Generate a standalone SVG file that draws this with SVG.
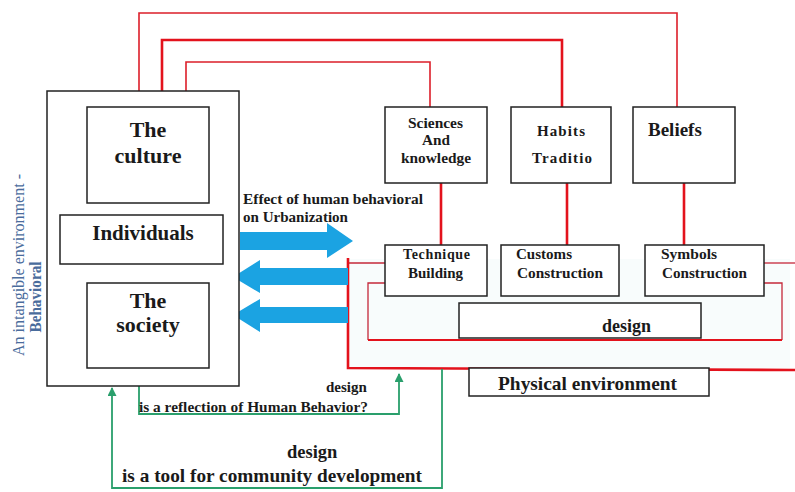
<svg xmlns="http://www.w3.org/2000/svg" width="795" height="492" viewBox="0 0 795 492">
<defs>
<style>
.box{fill:#fff;stroke:#222;stroke-width:1.5}
.t{font-family:'Liberation Serif','DejaVu Serif',serif;font-weight:bold;fill:#1a1a1a}
.red{fill:none;stroke:#dc1f2a;stroke-width:1.6}
.redk{fill:none;stroke:#e3121c;stroke-width:2.6}
.redd{fill:none;stroke:#c4283a;stroke-width:1.3}
.grn{fill:none;stroke:#2a9f6c;stroke-width:1.8}
.blue{fill:#1ba3e2}
.vt{font-family:'Liberation Serif','DejaVu Serif',serif;fill:#4a6c9c}
</style>
<marker id="ga" viewBox="0 0 10 10" refX="9" refY="5" markerWidth="10" markerHeight="9" markerUnits="userSpaceOnUse" orient="auto">
<path d="M0,0 L10,5 L0,10 Z" fill="#2a9f6c"/>
</marker>
</defs>
<rect width="795" height="492" fill="#fff"/>
<rect x="349" y="259" width="441" height="109" fill="#f8fcfc"/>

<g id="connectors">
<path class="red" d="M139,91 V13 H677 V107"/>
<path class="redk" d="M162,91 V40 H562 V107"/>
<path class="red" d="M186,91 V62 H430 V107"/>
<path class="redk" d="M441,183 V245"/>
<path class="redk" d="M567,183 V245"/>
<path class="redk" d="M684,183 V245"/>
<path class="redd" d="M348,263 H385"/>
<path class="redd" d="M764,263 H795"/>
<path class="redd" d="M385,283 H368 V340"/>
<path class="redd" d="M764,283 H782 V340"/>
<path class="redk" d="M368,340 H782" style="stroke-width:2.2"/>
<path class="redk" d="M348,258 V368 L795,370"/>
<polygon class="blue" points="240,232 327,232 327,223 353,241 327,258 327,250 240,250"/>
<polygon class="blue" points="348,268 260,268 260,260 233,277 260,293 260,285 348,285"/>
<polygon class="blue" points="348,307 260,307 260,299 233,315 260,332 260,323 348,323"/>
<path class="grn" d="M139,386 V414 H399 V374" marker-end="url(#ga)"/>
<path class="grn" d="M442,369 V488 H112 V388" marker-end="url(#ga)"/>
</g>

<g id="intangible-label">
<text class="vt" transform="translate(24,265) rotate(-90)" text-anchor="middle" font-size="16" textLength="182" lengthAdjust="spacingAndGlyphs">An intangible environment -</text>
<text class="vt" transform="translate(41,297) rotate(-90)" text-anchor="middle" font-size="16" font-weight="bold" textLength="71" lengthAdjust="spacingAndGlyphs">Behavioral</text>
</g>

<g id="behavioral-environment">
<rect class="box" x="47" y="91" width="192" height="295"/>
</g>
<g id="the-culture">
<rect class="box" x="87" y="107" width="122" height="96"/>
<text class="t" x="148" y="137" font-size="22" text-anchor="middle">The</text>
<text class="t" x="148" y="163" font-size="22" text-anchor="middle">culture</text>
</g>
<g id="individuals">
<rect class="box" x="60" y="215" width="163" height="49"/>
<text class="t" x="143" y="240" font-size="21" text-anchor="middle">Individuals</text>
</g>
<g id="the-society">
<rect class="box" x="87" y="283" width="122" height="85"/>
<text class="t" x="148" y="308" font-size="22" text-anchor="middle">The</text>
<text class="t" x="148" y="332" font-size="22" text-anchor="middle">society</text>
</g>

<g id="effect-label">
<text class="t" x="243" y="204" font-size="15.5" textLength="180" lengthAdjust="spacingAndGlyphs">Effect of human behavioral</text>
<text class="t" x="243" y="222" font-size="15.5" textLength="105" lengthAdjust="spacingAndGlyphs">on Urbanization</text>
</g>

<g id="sciences">
<rect class="box" x="385" y="107" width="102" height="76"/>
<text class="t" x="408" y="128" font-size="15" textLength="55" lengthAdjust="spacingAndGlyphs">Sciences</text>
<text class="t" x="422" y="145" font-size="15" textLength="28" lengthAdjust="spacingAndGlyphs">And</text>
<text class="t" x="401" y="163" font-size="15" textLength="70" lengthAdjust="spacingAndGlyphs">knowledge</text>
</g>
<g id="habits">
<rect class="box" x="511" y="107" width="100" height="76"/>
<text class="t" x="537" y="136" font-size="15" textLength="48" lengthAdjust="spacing">Habits</text>
<text class="t" x="532" y="163" font-size="15" textLength="60" lengthAdjust="spacing">Traditio</text>
</g>
<g id="beliefs">
<rect class="box" x="633" y="107" width="102" height="76"/>
<text class="t" x="648" y="136" font-size="19">Beliefs</text>
</g>

<g id="technique">
<rect class="box" x="385" y="245" width="102" height="51"/>
<text class="t" x="403" y="259" font-size="14" textLength="67" lengthAdjust="spacing">Technique</text>
<text class="t" x="408" y="278" font-size="14" textLength="55" lengthAdjust="spacingAndGlyphs">Building</text>
</g>
<g id="customs">
<rect class="box" x="501" y="245" width="118" height="51"/>
<text class="t" x="516" y="259" font-size="14" textLength="56" lengthAdjust="spacingAndGlyphs">Customs</text>
<text class="t" x="517" y="278" font-size="14" textLength="86" lengthAdjust="spacingAndGlyphs">Construction</text>
</g>
<g id="symbols">
<rect class="box" x="645" y="245" width="119" height="51"/>
<text class="t" x="661" y="259" font-size="14" textLength="56" lengthAdjust="spacingAndGlyphs">Symbols</text>
<text class="t" x="662" y="278" font-size="14" textLength="85" lengthAdjust="spacingAndGlyphs">Construction</text>
</g>
<g id="design">
<rect class="box" x="459" y="303" width="242" height="35"/>
<text class="t" x="602" y="332" font-size="18">design</text>
</g>
<g id="physical-environment">
<rect class="box" x="469" y="368" width="240" height="28"/>
<text class="t" x="498" y="390" font-size="19" textLength="179" lengthAdjust="spacingAndGlyphs">Physical environment</text>
</g>

<g id="reflection-label">
<text class="t" x="326" y="392" font-size="15">design</text>
<text class="t" x="139" y="412" font-size="15" textLength="229" lengthAdjust="spacingAndGlyphs">is a reflection of Human Behavior?</text>
</g>
<g id="tool-label">
<text class="t" x="287" y="458" font-size="18.5">design</text>
<text class="t" x="122" y="482" font-size="19" textLength="300" lengthAdjust="spacingAndGlyphs">is a tool for community development</text>
</g>
</svg>
